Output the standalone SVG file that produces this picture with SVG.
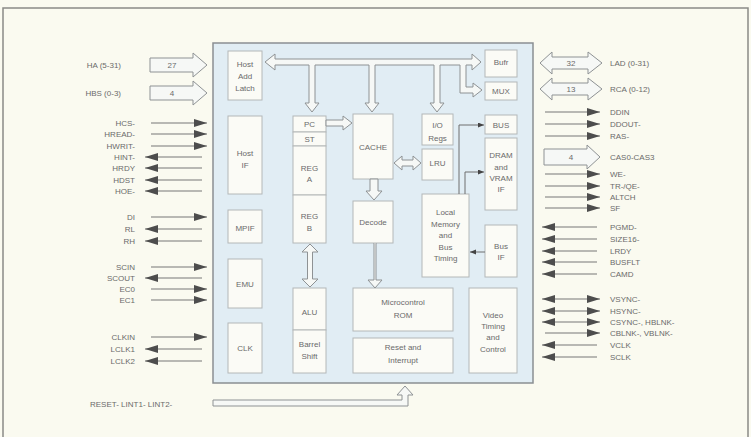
<svg xmlns="http://www.w3.org/2000/svg" width="751" height="437" viewBox="0 0 751 437">
<style>
.t{font-family:"Liberation Sans",Arial,sans-serif;font-size:8px;fill:#6a6a6a}
.m{text-anchor:middle}
.e{text-anchor:end}
.blk{fill:#fbfbf6;stroke:#b4b8b8;stroke-width:1}
.hol{fill:#f6f8f6;stroke:#8e9294;stroke-width:1;stroke-linejoin:miter}
.sig{stroke:#777;stroke-width:1.1;fill:none}
.ln{stroke:#6e6e6e;stroke-width:1;fill:none}
</style>
<defs>
<marker id="ah" markerUnits="userSpaceOnUse" markerWidth="14" markerHeight="9" refX="13" refY="4" orient="auto-start-reverse"><path d="M0,0 L13,4 L0,8 Z" fill="#4d4d4d"/></marker>
<marker id="sm" markerUnits="userSpaceOnUse" markerWidth="7" markerHeight="6" refX="6" refY="2.5" orient="auto-start-reverse"><path d="M0,0 L6,2.5 L0,5 Z" fill="#444"/></marker>
</defs>
<rect x="0" y="0" width="751" height="437" fill="#fafaf0"/>
<rect id="frame" x="3" y="8" width="745" height="440" fill="none" stroke="#8a8a86" stroke-width="1.5"/>
<rect id="chip" x="213" y="43" width="320" height="340" fill="#e1edf4" stroke="#8a8f92" stroke-width="1.5"/>

<g id="hostaddlatch"><rect class="blk" x="228" y="51" width="34" height="49"/><text class="t m" x="245" y="67">Host</text><text class="t m" x="245" y="79">Add</text><text class="t m" x="245" y="91">Latch</text></g>
<g id="hostif"><rect class="blk" x="228" y="116" width="34" height="78"/><text class="t m" x="245" y="156">Host</text><text class="t m" x="245" y="168">IF</text></g>
<g id="mpif"><rect class="blk" x="228" y="210" width="34" height="33"/><text class="t m" x="245" y="231">MPIF</text></g>
<g id="emu"><rect class="blk" x="228" y="259" width="34" height="49"/><text class="t m" x="245" y="287">EMU</text></g>
<g id="clk"><rect class="blk" x="228" y="323" width="34" height="50"/><text class="t m" x="245" y="351">CLK</text></g>

<g id="pc"><rect class="blk" x="293" y="116" width="33" height="16"/><text class="t m" x="309.5" y="127">PC</text></g>
<g id="st"><rect class="blk" x="293" y="132" width="33" height="14"/><text class="t m" x="309.5" y="142">ST</text></g>
<g id="rega"><rect class="blk" x="293" y="146" width="33" height="49"/><text class="t m" x="309.5" y="171">REG</text><text class="t m" x="309.5" y="182">A</text></g>
<g id="regb"><rect class="blk" x="293" y="195" width="33" height="48"/><text class="t m" x="309.5" y="219">REG</text><text class="t m" x="309.5" y="231">B</text></g>
<g id="alu"><rect class="blk" x="293" y="288" width="33" height="42"/><text class="t m" x="309.5" y="315">ALU</text></g>
<g id="barrel"><rect class="blk" x="293" y="330" width="33" height="43"/><text class="t m" x="309.5" y="347">Barrel</text><text class="t m" x="309.5" y="359">Shift</text></g>

<g id="cache"><rect class="blk" x="353" y="114" width="40" height="65"/><text class="t m" x="373" y="150">CACHE</text></g>
<g id="decode"><rect class="blk" x="353" y="201" width="40" height="42"/><text class="t m" x="373" y="225">Decode</text></g>
<g id="rom"><rect class="blk" x="353" y="288" width="100" height="43"/><text class="t m" x="403" y="305">Microcontrol</text><text class="t m" x="403" y="318">ROM</text></g>
<g id="reset"><rect class="blk" x="353" y="338" width="100" height="35"/><text class="t m" x="403" y="350">Reset and</text><text class="t m" x="403" y="363">Interrupt</text></g>

<g id="ioregs"><rect class="blk" x="422" y="114" width="31" height="31"/><text class="t m" x="437.5" y="128">I/O</text><text class="t m" x="437.5" y="141">Regs</text></g>
<g id="lru"><rect class="blk" x="422" y="149" width="31" height="31"/><text class="t m" x="437.5" y="166">LRU</text></g>
<g id="localmem"><rect class="blk" x="422" y="194" width="47" height="83"/><text class="t m" x="445.5" y="215">Local</text><text class="t m" x="445.5" y="227">Memory</text><text class="t m" x="445.5" y="238">and</text><text class="t m" x="445.5" y="250">Bus</text><text class="t m" x="445.5" y="261">Timing</text></g>
<g id="video"><rect class="blk" x="469" y="288" width="48" height="85"/><text class="t m" x="493" y="318">Video</text><text class="t m" x="493" y="329">Timing</text><text class="t m" x="493" y="340">and</text><text class="t m" x="493" y="352">Control</text></g>

<g id="bufr"><rect class="blk" x="485" y="50" width="32" height="27"/><text class="t m" x="501" y="65">Bufr</text></g>
<g id="mux"><rect class="blk" x="485" y="82" width="32" height="18"/><text class="t m" x="501" y="94">MUX</text></g>
<g id="bus"><rect class="blk" x="485" y="115" width="32" height="19"/><text class="t m" x="501" y="128">BUS</text></g>
<g id="dram"><rect class="blk" x="485" y="138" width="32" height="72"/><text class="t m" x="501" y="158">DRAM</text><text class="t m" x="501" y="170">and</text><text class="t m" x="501" y="181">VRAM</text><text class="t m" x="501" y="192">IF</text></g>
<g id="busif"><rect class="blk" x="485" y="225" width="32" height="52"/><text class="t m" x="501" y="249">Bus</text><text class="t m" x="501" y="260">IF</text></g>

<g id="connectors">
<path class="hol" d="M265,62 L275,54 L275,59 L472,59 L472,54 L481,62 L472,70 L472,65 L466,65 L466,87 L473,87 L473,83 L482,90 L473,97 L473,93 L460,93 L460,65 L440,65 L440,103 L444,103 L437,112 L430,103 L434,103 L434,65 L375,65 L375,103 L379,103 L372,112 L365,103 L369,103 L369,65 L315,65 L315,103 L319,103 L312,112 L305,103 L309,103 L309,65 L275,65 L275,70 Z"/>
<path class="hol" d="M326,120 L343,120 L343,116 L352,123 L343,130 L343,126 L326,126 Z"/>
<path class="hol" d="M394,163 L402,156 L402,160 L413,160 L413,156 L421,163 L413,170 L413,166 L402,166 L402,170 Z"/>
<path class="hol" d="M370,179 L370,191 L366,191 L374,200 L382,191 L378,191 L378,179 Z"/>
<path class="hol" d="M374,243 L374,280 L368,280 L375,288 L382,280 L376,280 L376,243"/>
<path class="hol" d="M310,244 L318,252 L312.5,252 L312.5,279 L318,279 L310,287 L302,279 L307.5,279 L307.5,252 L302,252 Z"/>
<path class="ln" d="M459,194 V125 H484" marker-end="url(#sm)"/>
<path class="ln" d="M465,194 V172 H484" marker-end="url(#sm)"/>
<path class="ln" d="M485,252 H470" marker-end="url(#sm)"/>
<path class="hol" d="M213,400 L402,400 L402,395 L397,395 L405,386 L413,395 L408,395 L408,406 L213,406 Z"/>

<path class="hol" d="M150,58 L193,58 L193,53 L207,65 L193,77 L193,72 L150,72 Z"/>
<path class="hol" d="M150,86 L193,86 L193,81 L207,93 L193,105 L193,100 L150,100 Z"/>
<line class="sig" x1="151" y1="123" x2="207" y2="123" marker-end="url(#ah)"/>
<line class="sig" x1="151" y1="134" x2="207" y2="134" marker-end="url(#ah)"/>
<line class="sig" x1="151" y1="146" x2="207" y2="146" marker-end="url(#ah)"/>
<line class="sig" x1="202" y1="157" x2="145" y2="157" marker-end="url(#ah)"/>
<line class="sig" x1="202" y1="168" x2="145" y2="168" marker-end="url(#ah)"/>
<line class="sig" x1="202" y1="180" x2="145" y2="180" marker-end="url(#ah)"/>
<line class="sig" x1="202" y1="191" x2="145" y2="191" marker-end="url(#ah)"/>
<line class="sig" x1="151" y1="217" x2="207" y2="217" marker-end="url(#ah)"/>
<line class="sig" x1="202" y1="229" x2="145" y2="229" marker-end="url(#ah)"/>
<line class="sig" x1="202" y1="241" x2="145" y2="241" marker-end="url(#ah)"/>
<line class="sig" x1="151" y1="267" x2="207" y2="267" marker-end="url(#ah)"/>
<line class="sig" x1="202" y1="278" x2="145" y2="278" marker-end="url(#ah)"/>
<line class="sig" x1="151" y1="289" x2="207" y2="289" marker-end="url(#ah)"/>
<line class="sig" x1="151" y1="300" x2="207" y2="300" marker-end="url(#ah)"/>
<line class="sig" x1="151" y1="337" x2="207" y2="337" marker-end="url(#ah)"/>
<line class="sig" x1="202" y1="349" x2="145" y2="349" marker-end="url(#ah)"/>
<line class="sig" x1="202" y1="361" x2="145" y2="361" marker-end="url(#ah)"/>

<path class="hol" d="M540,63 L552,52 L552,57 L588,57 L588,52 L602,63 L588,74 L588,69 L552,69 L552,74 Z"/>
<path class="hol" d="M540,89 L552,78 L552,83 L588,83 L588,78 L602,89 L588,100 L588,95 L552,95 L552,100 Z"/>
<line class="sig" x1="545" y1="112" x2="600" y2="112" marker-end="url(#ah)"/>
<line class="sig" x1="545" y1="124" x2="600" y2="124" marker-end="url(#ah)"/>
<line class="sig" x1="545" y1="136" x2="600" y2="136" marker-end="url(#ah)"/>
<path class="hol" d="M544,149 L587,149 L587,145 L600,157 L587,169 L587,165 L544,165 Z"/>
<line class="sig" x1="545" y1="174" x2="600" y2="174" marker-end="url(#ah)"/>
<line class="sig" x1="545" y1="186" x2="600" y2="186" marker-end="url(#ah)"/>
<line class="sig" x1="545" y1="197" x2="600" y2="197" marker-end="url(#ah)"/>
<line class="sig" x1="545" y1="208" x2="600" y2="208" marker-end="url(#ah)"/>
<line class="sig" x1="597" y1="227" x2="542" y2="227" marker-end="url(#ah)"/>
<line class="sig" x1="597" y1="239" x2="542" y2="239" marker-end="url(#ah)"/>
<line class="sig" x1="597" y1="251" x2="542" y2="251" marker-end="url(#ah)"/>
<line class="sig" x1="597" y1="262" x2="542" y2="262" marker-end="url(#ah)"/>
<line class="sig" x1="597" y1="274" x2="542" y2="274" marker-end="url(#ah)"/>
<line class="sig" x1="542" y1="299" x2="600" y2="299" marker-start="url(#ah)" marker-end="url(#ah)"/>
<line class="sig" x1="542" y1="311" x2="600" y2="311" marker-start="url(#ah)" marker-end="url(#ah)"/>
<line class="sig" x1="542" y1="322" x2="600" y2="322" marker-start="url(#ah)" marker-end="url(#ah)"/>
<line class="sig" x1="545" y1="333" x2="600" y2="333" marker-end="url(#ah)"/>
<line class="sig" x1="597" y1="345" x2="542" y2="345" marker-end="url(#ah)"/>
<line class="sig" x1="597" y1="357" x2="542" y2="357" marker-end="url(#ah)"/>
</g>

<g id="labels">
<text class="t m" x="172" y="68">27</text>
<text class="t m" x="172" y="96">4</text>
<text class="t m" x="571" y="66">32</text>
<text class="t m" x="571" y="92">13</text>
<text class="t m" x="571" y="160">4</text>
<text class="t e" x="121" y="68">HA (5-31)</text>
<text class="t e" x="121" y="96">HBS (0-3)</text>
<text class="t e" x="135" y="126">HCS-</text>
<text class="t e" x="135" y="137">HREAD-</text>
<text class="t e" x="135" y="149">HWRIT-</text>
<text class="t e" x="135" y="160">HINT-</text>
<text class="t e" x="135" y="171">HRDY</text>
<text class="t e" x="135" y="183">HDST</text>
<text class="t e" x="135" y="194">HOE-</text>
<text class="t e" x="135" y="220">DI</text>
<text class="t e" x="135" y="232">RL</text>
<text class="t e" x="135" y="244">RH</text>
<text class="t e" x="135" y="270">SCIN</text>
<text class="t e" x="135" y="281">SCOUT</text>
<text class="t e" x="135" y="292">EC0</text>
<text class="t e" x="135" y="303">EC1</text>
<text class="t e" x="135" y="340">CLKIN</text>
<text class="t e" x="135" y="352">LCLK1</text>
<text class="t e" x="135" y="364">LCLK2</text>
<text class="t" x="90" y="407">RESET-  LINT1-  LINT2-</text>
<text class="t" x="610" y="66">LAD (0-31)</text>
<text class="t" x="610" y="92">RCA (0-12)</text>
<text class="t" x="610" y="115">DDIN</text>
<text class="t" x="610" y="127">DDOUT-</text>
<text class="t" x="610" y="139">RAS-</text>
<text class="t" x="610" y="160">CAS0-CAS3</text>
<text class="t" x="610" y="177">WE-</text>
<text class="t" x="610" y="189">TR-/QE-</text>
<text class="t" x="610" y="200">ALTCH</text>
<text class="t" x="610" y="211">SF</text>
<text class="t" x="610" y="230">PGMD-</text>
<text class="t" x="610" y="242">SIZE16-</text>
<text class="t" x="610" y="254">LRDY</text>
<text class="t" x="610" y="265">BUSFLT</text>
<text class="t" x="610" y="277">CAMD</text>
<text class="t" x="610" y="302">VSYNC-</text>
<text class="t" x="610" y="314">HSYNC-</text>
<text class="t" x="610" y="325">CSYNC-, HBLNK-</text>
<text class="t" x="610" y="336">CBLNK-, VBLNK-</text>
<text class="t" x="610" y="348">VCLK</text>
<text class="t" x="610" y="360">SCLK</text>
</g>
</svg>
